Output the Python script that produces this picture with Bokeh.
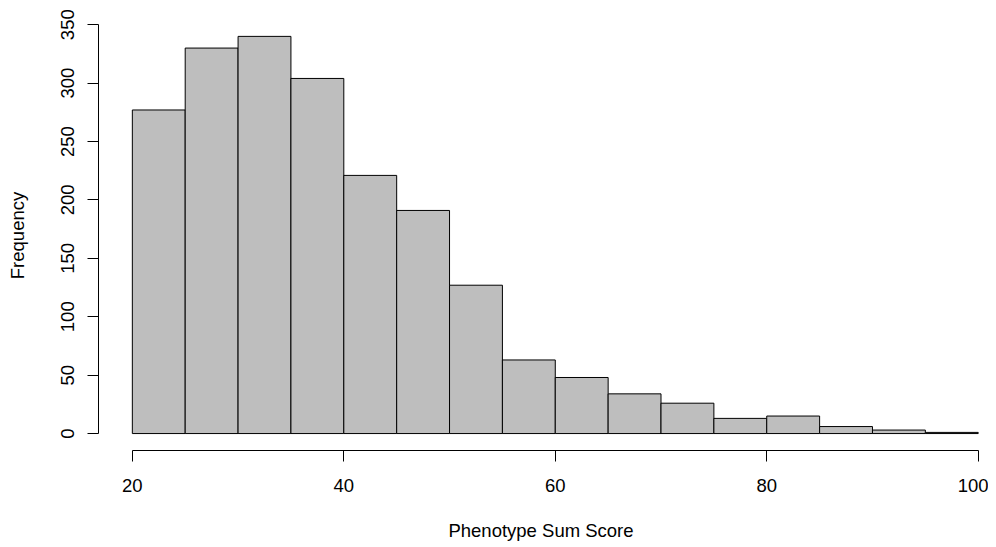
from bokeh.plotting import figure
from bokeh.models import FixedTicker, ColumnDataSource
from bokeh.embed import file_html
from bokeh.resources import INLINE

# Data
bin_left = [20, 25, 30, 35, 40, 45, 50, 55, 60, 65, 70, 75, 80, 85, 90, 95]
bin_right = [25, 30, 35, 40, 45, 50, 55, 60, 65, 70, 75, 80, 85, 90, 95, 100]
counts = [277, 330, 340, 304, 221, 191, 127, 63, 48, 34, 26, 13, 15, 6, 3, 1]
x_ticks = [20, 40, 60, 80, 100]
y_ticks = [0, 50, 100, 150, 200, 250, 300, 350]
x_label = "Phenotype Sum Score"
y_label = "Frequency"

FONT = "Liberation Sans"
FS = "18.5px"

src = ColumnDataSource(dict(left=bin_left, right=bin_right, top=counts,
                            bottom=[0] * len(counts)))

p = figure(width=988, height=547, output_backend="svg", toolbar_location=None,
           x_range=(16.8, 100.5), y_range=(-14.5, 353.6),
           min_border_left=98, min_border_right=5, min_border_top=20,
           min_border_bottom=97)

p.quad(left="left", right="right", top="top", bottom="bottom", source=src,
       fill_color="#BEBEBE", line_color="black", line_width=1)

p.xgrid.visible = False
p.ygrid.visible = False
p.outline_line_color = None
p.background_fill_color = "white"
p.border_fill_color = "white"

for ax in (p.xaxis[0], p.yaxis[0]):
    ax.axis_line_color = "black"
    ax.axis_line_width = 1
    ax.major_tick_line_color = "black"
    ax.major_tick_out = 11
    ax.major_tick_in = 0
    ax.minor_tick_line_color = None
    ax.major_label_text_font = FONT
    ax.major_label_text_font_size = FS
    ax.major_label_text_color = "black"
    ax.axis_label_text_font = FONT
    ax.axis_label_text_font_size = FS
    ax.axis_label_text_font_style = "normal"
    ax.axis_label_text_color = "black"

xa = p.xaxis[0]
xa.ticker = FixedTicker(ticks=x_ticks)
xa.bounds = (20, 100)
xa.axis_label = x_label
xa.major_label_standoff = 17
xa.axis_label_standoff = 25

ya = p.yaxis[0]
ya.ticker = FixedTicker(ticks=y_ticks)
ya.bounds = (0, 350)
ya.axis_label = y_label
ya.major_label_orientation = "vertical"
ya.major_label_standoff = 13
ya.axis_label_standoff = 31

open("out.html", "w").write(file_html(p, INLINE))
